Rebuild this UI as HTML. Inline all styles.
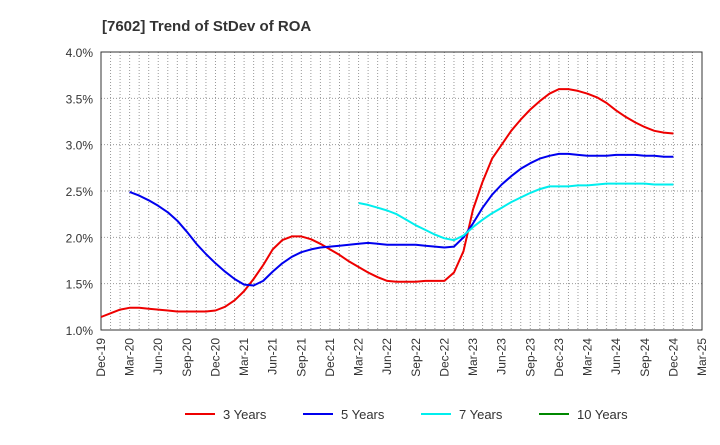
<!DOCTYPE html>
<html><head><meta charset="utf-8"><style>
body{margin:0;background:#fff;font-family:"Liberation Sans",sans-serif}
</style></head><body>
<svg id="c" width="720" height="440" xmlns="http://www.w3.org/2000/svg" font-family="Liberation Sans, sans-serif">
<text x="102" y="31" font-size="15" font-weight="bold" fill="#333">[7602]  Trend of StDev of ROA</text>
<g id="grid"></g><g id="axes"></g><g id="series"></g><g id="legend"></g>
</svg>
<script>
const yTicks=[1.0,1.5,2.0,2.5,3.0,3.5,4.0];
const xLabels=["Dec-19","Mar-20","Jun-20","Sep-20","Dec-20","Mar-21","Jun-21","Sep-21","Dec-21","Mar-22","Jun-22","Sep-22","Dec-22","Mar-23","Jun-23","Sep-23","Dec-23","Mar-24","Jun-24","Sep-24","Dec-24","Mar-25"];
const y3=[1.14,1.18,1.22,1.24,1.24,1.23,1.22,1.21,1.20,1.20,1.20,1.20,1.21,1.25,1.32,1.42,1.55,1.70,1.87,1.97,2.01,2.01,1.98,1.93,1.87,1.81,1.74,1.68,1.62,1.57,1.53,1.52,1.52,1.52,1.53,1.53,1.53,1.62,1.85,2.30,2.60,2.85,3.00,3.15,3.27,3.38,3.47,3.55,3.60,3.60,3.58,3.55,3.51,3.45,3.37,3.30,3.24,3.19,3.15,3.13,3.12];
const y5=[null,null,null,2.49,2.45,2.40,2.34,2.27,2.18,2.06,1.93,1.82,1.72,1.63,1.55,1.49,1.48,1.53,1.63,1.72,1.79,1.84,1.87,1.89,1.90,1.91,1.92,1.93,1.94,1.93,1.92,1.92,1.92,1.92,1.91,1.90,1.89,1.90,2.00,2.15,2.32,2.46,2.57,2.66,2.74,2.80,2.85,2.88,2.90,2.90,2.89,2.88,2.88,2.88,2.89,2.89,2.89,2.88,2.88,2.87,2.87];
const y7=[null,null,null,null,null,null,null,null,null,null,null,null,null,null,null,null,null,null,null,null,null,null,null,null,null,null,null,2.37,2.35,2.32,2.29,2.25,2.19,2.13,2.08,2.03,1.99,1.97,2.02,2.11,2.19,2.26,2.32,2.38,2.43,2.48,2.52,2.55,2.55,2.55,2.56,2.56,2.57,2.58,2.58,2.58,2.58,2.58,2.57,2.57,2.57];
const y10=[];
const NS="http://www.w3.org/2000/svg";
const L=101,R=702,T=52,B=330;
const xs=i=>L+(R-L)*i/63;
const ys=v=>B-(v-1)/3*(B-T);
function mk(t,a,p){const e=document.createElementNS(NS,t);for(const k in a)e.setAttribute(k,a[k]);p.appendChild(e);return e;}
const g=document.getElementById('grid'),ax=document.getElementById('axes'),s=document.getElementById('series'),lg=document.getElementById('legend');
for(let i=1;i<63;i++){const l=mk('line',{x1:xs(i),x2:xs(i),y1:T,y2:B,stroke:'#999','stroke-width':1,'stroke-dasharray':'1,2'},g);

}
yTicks.forEach(v=>{const l=mk('line',{x1:L,x2:R,y1:ys(v),y2:ys(v),stroke:'#999','stroke-width':1,'stroke-dasharray':'1,2'},g);


const t=mk('text',{x:L-8,y:ys(v)+5,'text-anchor':'end','font-size':12,fill:'#333'},ax);t.textContent=v.toFixed(1)+'%';

});
const fr=mk('rect',{x:L,y:T,width:R-L,height:B-T,fill:'none',stroke:'#333','stroke-width':1},ax);


xLabels.forEach((lab,i)=>{const x=xs(i*3);const t=mk('text',{x:x+4,y:B+8,'text-anchor':'end','font-size':12,fill:'#333',transform:`rotate(-90 ${x+4} ${B+8})`},ax);t.textContent=lab;

});
function line(arr,col,name){let d='';arr.forEach((v,i)=>{if(v==null)return;d+=(d?'L':'M')+xs(i).toFixed(1)+','+ys(v).toFixed(1);});
if(!d)return;const p=mk('path',{d:d,fill:'none',stroke:col,'stroke-width':2,'stroke-linejoin':'round'},s);

}
line(y3,'#ee0000','series-3-years');line(y5,'#0000ee','series-5-years');line(y7,'#00eeee','series-7-years');line(y10,'#008800','series-10-years');
const leg=[['3 Years','#ee0000',185],['5 Years','#0000ee',303],['7 Years','#00eeee',421],['10 Years','#008800',539]];
leg.forEach(([n,c,x])=>{const gg=mk('g',{},lg);

mk('line',{x1:x,x2:x+30,y1:414,y2:414,stroke:c,'stroke-width':2},gg);
const t=mk('text',{x:x+38,y:419,'font-size':13,fill:'#333'},gg);t.textContent=n;});
</script>
</body></html>
